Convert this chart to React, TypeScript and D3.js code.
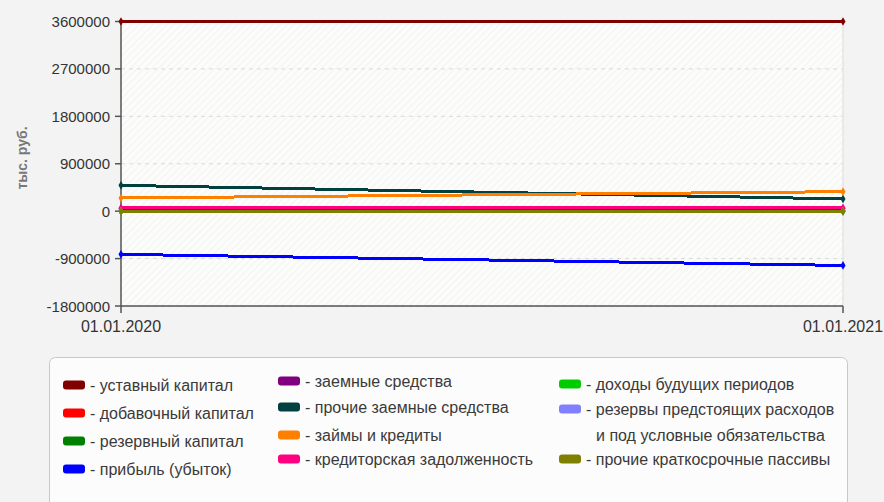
import { useMemo } from "react";
import { line, scaleLinear, scaleTime, symbol, symbolDiamond } from "d3";

const totalWidth = 884;
const totalHeight = 502;
const plotLeft = 121;
const plotRight = 843;
const plotTop = 21.5;
const plotBottom = 306;

const dates = [new Date(2020, 0, 1), new Date(2021, 0, 1)];
const dateLabels = ["01.01.2020", "01.01.2021"];
const yTicks = [3600000, 2700000, 1800000, 900000, 0, -900000, -1800000];

const seriesNames = [
  "уставный капитал",
  "добавочный капитал",
  "резервный капитал",
  "прибыль (убыток)",
  "заемные средства",
  "прочие заемные средства",
  "займы и кредиты",
  "кредиторская задолженность",
  "доходы будущих периодов",
  "резервы предстоящих расходов и под условные обязательства",
  "прочие краткосрочные пассивы",
];
const seriesColors = [
  "#800000",
  "#ff0000",
  "#008000",
  "#0000ff",
  "#800080",
  "#004040",
  "#ff8000",
  "#ff0080",
  "#00cc00",
  "#8080ff",
  "#808000",
];
const seriesValues = [
  [3600000, 3600000],
  [0, 0],
  [0, 0],
  [-820000, -1030000],
  [45000, 45000],
  [490000, 232000],
  [250000, 370000],
  [62000, 62000],
  [0, 0],
  [0, 0],
  [0, 0],
];

// legend layout: [column, row y] for each item
const legendCols = [63, 278, 559];
const legendSlots = [
  [0, 385], [0, 413], [0, 441], [0, 469],
  [1, 381], [1, 407], [1, 435], [1, 459],
  [2, 384], [2, 409], [2, 459],
];
const wrapAfter = "расходов";

export default function App() {
  const { xScale, yScale } = useMemo(() => {
    const xScale = scaleTime().domain([dates[0], dates[1]]).range([plotLeft, plotRight]);
    const yScale = scaleLinear().domain([-1800000, 3600000]).range([plotBottom, plotTop]);
    return { xScale, yScale };
  }, []);

  const lineGen = line<number>()
    .x((_, i) => xScale(dates[i]))
    .y((d) => yScale(d));
  const diamond = symbol().type(symbolDiamond).size(22)() || "";

  return (
    <svg
      width={totalWidth}
      height={totalHeight}
      viewBox={`0 0 ${totalWidth} ${totalHeight}`}
      style={{ position: "fixed", left: 0, top: 0, fontFamily: "'Liberation Sans', Arial, sans-serif" }}
    >
      <defs>
        <pattern id="hatch" width="5" height="5" patternUnits="userSpaceOnUse" patternTransform="rotate(45)">
          <rect width="5" height="5" fill="#fcfcfb" />
          <line x1="0" y1="0" x2="0" y2="5" stroke="#f0f0ef" strokeWidth="1.5" />
        </pattern>
      </defs>
      <rect width={totalWidth} height={totalHeight} fill="#f3f3f3" />
      <rect
        x={plotLeft}
        y={plotTop}
        width={plotRight - plotLeft}
        height={plotBottom - plotTop}
        fill="url(#hatch)"
      />
      <line x1={plotRight} x2={plotRight} y1={plotTop} y2={plotBottom} stroke="#dcdcdc" />

      {yTicks.map((t) => (
        <g key={t}>
          {t !== 3600000 && (
            <line
              x1={plotLeft}
              x2={plotRight}
              y1={yScale(t)}
              y2={yScale(t)}
              stroke="#dadada"
              strokeDasharray="4 4"
            />
          )}
          <line x1={plotLeft - 6} x2={plotLeft} y1={yScale(t)} y2={yScale(t)} stroke="#555" strokeWidth={1.5} />
          <text
            x={plotLeft - 11}
            y={yScale(t)}
            textAnchor="end"
            dominantBaseline="central"
            fontSize={15}
            fill="#333"
          >
            {t}
          </text>
        </g>
      ))}

      <line x1={plotLeft} x2={plotLeft} y1={plotTop} y2={plotBottom} stroke="#555" strokeWidth={1.5} />
      <line x1={plotLeft} x2={plotRight} y1={plotBottom} y2={plotBottom} stroke="#555" strokeWidth={1.5} />
      {dates.map((d, i) => (
        <g key={i}>
          <line x1={xScale(d)} x2={xScale(d)} y1={plotBottom} y2={plotBottom + 7} stroke="#555" strokeWidth={1.5} />
          <text x={xScale(d)} y={plotBottom + 20} textAnchor="middle" dominantBaseline="central" fontSize={16} fill="#333">
            {dateLabels[i]}
          </text>
        </g>
      ))}

      <text
        transform={`translate(22, 158) rotate(-90)`}
        textAnchor="middle"
        dominantBaseline="central"
        fontSize={14}
        fontWeight="bold"
        fill="#777"
      >
        тыс. руб.
      </text>

      {seriesValues.map((vals, i) => (
        <g key={seriesNames[i]}>
          <path
            d={lineGen(vals) || ""}
            fill="none"
            stroke={seriesColors[i]}
            strokeWidth={3}
            shapeRendering="crispEdges"
          />
          {vals.map((v, j) => (
            <path
              key={j}
              d={diamond}
              transform={`translate(${xScale(dates[j])}, ${yScale(v)})`}
              fill={seriesColors[i]}
            />
          ))}
        </g>
      ))}

      <rect x={49.5} y={357.5} width={798} height={160} rx={6} fill="#fcfcfc" stroke="#c8c8c8" />
      {seriesNames.map((name, i) => {
        const [col, y] = legendSlots[i];
        const x = legendCols[col];
        const cut = name.indexOf(wrapAfter);
        const lines =
          cut >= 0
            ? [name.slice(0, cut + wrapAfter.length), name.slice(cut + wrapAfter.length + 1)]
            : [name];
        return (
          <g key={name}>
            <rect x={x} y={y - 4.5} width={22} height={9} rx={3} fill={seriesColors[i]} />
            <text x={x + 27} y={y} dominantBaseline="central" fontSize={16} fill="#3a3a3a">
              {"- " + lines[0]}
            </text>
            {lines[1] && (
              <text x={x + 37} y={y + 26} dominantBaseline="central" fontSize={16} fill="#3a3a3a">
                {lines[1]}
              </text>
            )}
          </g>
        );
      })}
    </svg>
  );
}
